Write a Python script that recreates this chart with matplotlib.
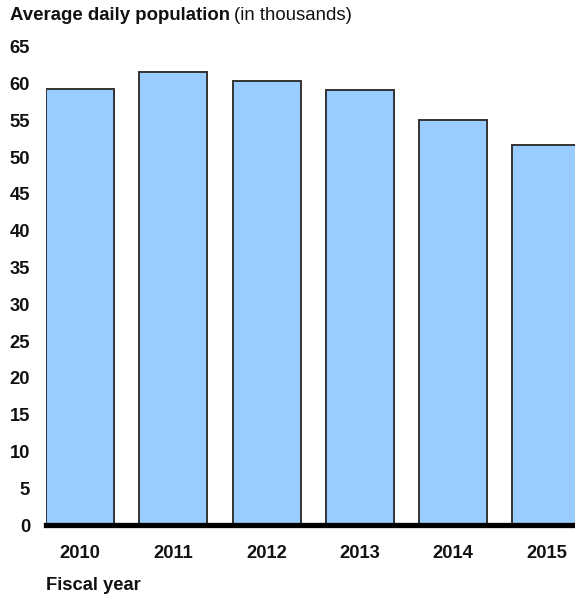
import matplotlib
matplotlib.use("Agg")
import matplotlib.pyplot as plt

years = ["2010", "2011", "2012", "2013", "2014", "2015"]
population = [59.3, 61.6, 60.4, 59.1, 55.0, 51.7]
y_ticks = list(range(0, 70, 5))

plt.rcParams["font.family"] = ["Liberation Sans", "DejaVu Sans"]

W, H = 575, 597
fig = plt.figure(figsize=(W / 100, H / 100), dpi=100)
ax = fig.add_axes([46 / W, (H - 525) / H, (W - 46) / W, (525 - 46.7) / H])

x = list(range(len(years)))
ax.bar(x, population, width=0.73, color="#99CCFF", edgecolor="#333333",
       linewidth=1.4, zorder=2)
ax.axhline(0, color="black", linewidth=3.8, zorder=3, clip_on=False)

ax.set_xlim(-0.365, 5.305)
ax.set_ylim(0, 65)
ax.set_yticks(y_ticks)
ax.set_yticklabels([str(v) for v in y_ticks], fontsize=13.2, fontweight="bold",
                   color="#111111")
ax.set_xticks(x)
ax.set_xticklabels(years, fontsize=13.2, fontweight="bold", color="#111111")
ax.tick_params(axis="y", length=0, pad=11.5)
ax.tick_params(axis="x", length=0, pad=14.5)
for s in ax.spines.values():
    s.set_visible(False)

fig.text(46 / W, 1 - 586 / H, "Fiscal year", fontsize=13.2, fontweight="bold",
         ha="left", va="center", color="#111111")

t1 = fig.text(10 / W, 1 - 16 / H, "Average daily population", fontsize=13.4,
              fontweight="bold", ha="left", va="center", color="#111111")
fig.canvas.draw()
bb = t1.get_window_extent()
fig.text((bb.x1 + 4) / W, 1 - 16 / H, "(in thousands)", fontsize=13.4,
         ha="left", va="center", color="#111111")

fig.savefig("out.png", dpi=100)
